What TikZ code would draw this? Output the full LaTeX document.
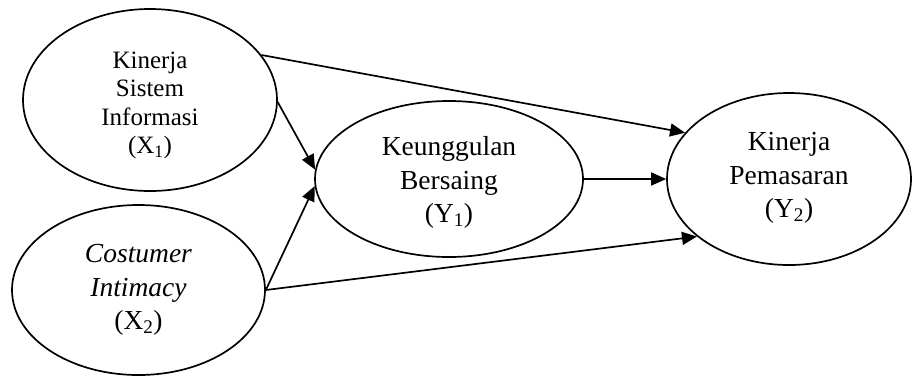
\documentclass[tikz,border=0pt]{standalone}
\usepackage{fontspec}
\setmainfont{Liberation Serif}
\usetikzlibrary{shapes.geometric,arrows.meta}
\begin{document}
\begin{tikzpicture}[x=1pt,y=-1pt,
  var/.style={draw,ellipse,line width=1.7pt,inner sep=0pt},
  txt/.style={align=center,inner sep=0pt},
  small/.style={font=\fontsize{25}{28.5}\selectfont},
  big/.style={font=\fontsize{27.5}{33.5}\selectfont},
  conn/.style={line width=1.7pt,-{Triangle[length=15pt,width=13pt]}}]
\useasboundingbox (0,0) rectangle (912,376);
\node[var,minimum width=254pt,minimum height=182pt] (x1) at (150,100) {};
\node[var,minimum width=253pt,minimum height=170pt] (x2) at (138.5,290) {};
\node[var,minimum width=268pt,minimum height=156pt] (y1) at (449,179) {};
\node[var,minimum width=244pt,minimum height=172pt] (y2) at (789,179) {};
\node[txt,small] (x1t) at (150,105.5) {Kinerja\\Sistem\\Informasi\\(X\textsubscript{1})};
\node[txt,big] (x2t) at (138.5,290) {\textit{Costumer}\\\textit{Intimacy}\\(X\textsubscript{2})};
\node[txt,big] (y1t) at (449,182.5) {Keunggulan\\Bersaing\\(Y\textsubscript{1})};
\node[txt,big] (y2t) at (789,178) {Kinerja\\Pemasaran\\(Y\textsubscript{2})};
\draw[conn] (x1.22) -- (y2.156.5);
\draw[conn] (x1.-1.5) -- (y1.176.2);
\draw[conn] (x2.east) -- (y1.183.4);
\draw[conn] (x2.east) -- (y2.212.3);
\draw[conn] (y1.east) -- (y2.west);
\end{tikzpicture}
\end{document}
